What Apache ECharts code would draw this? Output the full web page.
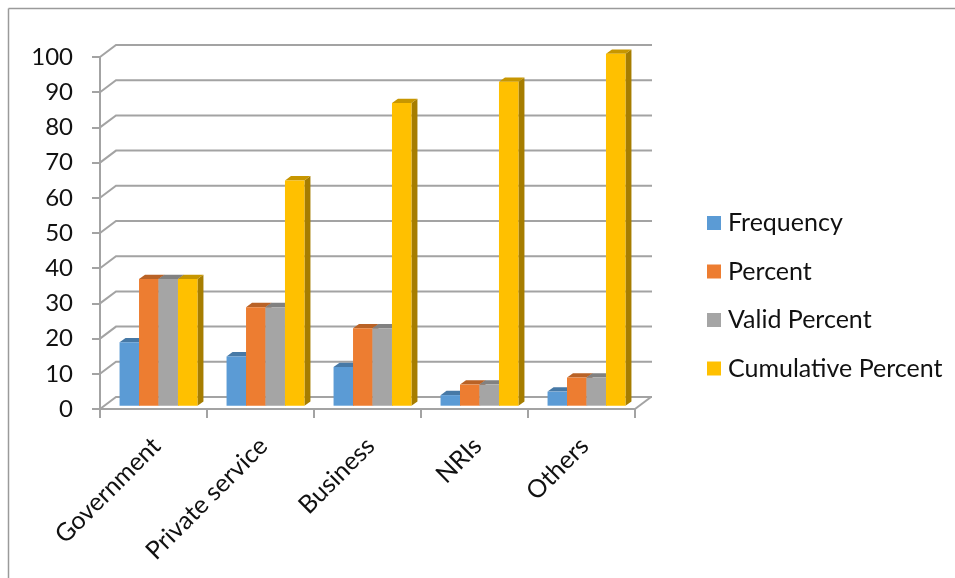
<!DOCTYPE html>
<html>
<head>
<meta charset="utf-8">
<script src="https://cdn.jsdelivr.net/npm/echarts@6/dist/echarts.min.js"></script>
<style>
  html, body { margin: 0; padding: 0; background: #fff; }
  #chart { width: 955px; height: 578px; }
</style>
</head>
<body>
<div id="chart"></div>
<script>
// Occupation of respondents
const categories = ['Government', 'Private service', 'Business', 'NRIs', 'Others'];
const frequency = [18, 14, 11, 3, 4];
const percent = [36, 28, 22, 6, 8];
const validPercent = [36, 28, 22, 6, 8];
const cumulativePercent = [36, 64, 86, 92, 100];
const yTicks = [0, 10, 20, 30, 40, 50, 60, 70, 80, 90, 100];

const seriesDefs = [
  { name: 'Frequency', values: frequency, color: '#5B9BD5' },
  { name: 'Percent', values: percent, color: '#ED7D31' },
  { name: 'Valid Percent', values: validPercent, color: '#A5A5A5' },
  { name: 'Cumulative Percent', values: cumulativePercent, color: '#FFC000' }
];

const FONT = 'Lato';
const LINE = '#A3A3A3';
const TEXT = '#111111';

// depth of the back wall relative to the front axis plane
const WALL_DX = 16, WALL_DY = -12;
// bars stand a little behind the front plane
const BAR_SHIFT_X = 5, BAR_SHIFT_Y = -3.3;
// extrusion of each bar
const BAR_DX = 6, BAR_DY = -4.3;

function shade(hex, k) {
  const n = parseInt(hex.slice(1), 16);
  const r = Math.round(((n >> 16) & 255) * k);
  const g = Math.round(((n >> 8) & 255) * k);
  const b = Math.round((n & 255) * k);
  return 'rgb(' + r + ',' + g + ',' + b + ')';
}

function wallRenderer(params, api) {
  const cs = params.coordSys;
  const v = api.value(0);
  const y = api.coord([0, v])[1];
  const xl = cs.x, xr = cs.x + cs.width;
  const children = [{
    type: 'polyline',
    shape: { points: [[xl, y], [xl + WALL_DX, y + WALL_DY], [xr + WALL_DX + 1, y + WALL_DY]] },
    style: { stroke: LINE, lineWidth: 2, fill: null }
  }];
  if (v === yTicks[0]) {
    children.push({
      type: 'line',
      shape: { x1: xr, y1: y, x2: xr + WALL_DX, y2: y + WALL_DY },
      style: { stroke: LINE, lineWidth: 2 }
    });
  }
  return { type: 'group', children: children };
}

function barRenderer(slot, color) {
  const topColor = shade(color, 0.78);
  const sideColor = shade(color, 0.65);
  return function (params, api) {
    const i = api.value(0);
    const v = api.value(1);
    const base = api.coord([i, 0]);
    const top = api.coord([i, v]);
    const band = api.size([1, 0])[0];
    const w = band * 0.182;
    const x0 = base[0] + BAR_SHIFT_X - 2 * w + slot * w;
    const x1 = x0 + w;
    const yb = base[1] + BAR_SHIFT_Y;
    const yt = top[1] + BAR_SHIFT_Y;
    return {
      type: 'group',
      children: [
        {
          type: 'polygon',
          shape: { points: [[x1, yt], [x1 + BAR_DX, yt + BAR_DY], [x1 + BAR_DX, yb + BAR_DY], [x1, yb]] },
          style: { fill: sideColor }
        },
        {
          type: 'polygon',
          shape: { points: [[x0, yt], [x1, yt], [x1 + BAR_DX, yt + BAR_DY], [x0 + BAR_DX, yt + BAR_DY]] },
          style: { fill: topColor }
        },
        {
          type: 'rect',
          shape: { x: x0, y: yt, width: w, height: yb - yt },
          style: { fill: color }
        }
      ]
    };
  };
}

const chart = echarts.init(document.getElementById('chart'), null, { renderer: 'canvas' });

const option = {
  backgroundColor: '#ffffff',
  animation: false,
  textStyle: { fontFamily: FONT },
  graphic: [
    { type: 'line', shape: { x1: 8.5, y1: 8.5, x2: 955, y2: 8.5 }, style: { stroke: '#9A9A9A', lineWidth: 1.5 } },
    { type: 'line', shape: { x1: 8.5, y1: 8.5, x2: 8.5, y2: 578 }, style: { stroke: '#9A9A9A', lineWidth: 1.5 } }
  ],
  legend: {
    orient: 'vertical',
    left: 707,
    top: 210.5,
    padding: 0,
    itemWidth: 14,
    itemHeight: 14,
    itemGap: 23.5,
    icon: 'rect',
    textStyle: { fontFamily: FONT, fontSize: 25, color: TEXT, lineHeight: 25, padding: [0, 0, 0, 2] },
    data: seriesDefs.map(s => s.name)
  },
  grid: [
    { left: 100, top: 57, width: 535, height: 352 },
    { left: 103, top: 57, width: 535, height: 352 }
  ],
  xAxis: [
    {
      type: 'category',
      gridIndex: 0,
      data: categories,
      axisLine: { show: true, lineStyle: { color: LINE, width: 2 } },
      axisTick: { show: true, length: 9, lineStyle: { color: LINE, width: 2 } },
      axisLabel: { show: false },
      splitLine: { show: false }
    },
    {
      type: 'category',
      gridIndex: 1,
      data: categories,
      axisLine: { show: false },
      axisTick: { show: false },
      axisLabel: { show: true, rotate: 45, margin: 33, fontFamily: FONT, fontSize: 25, color: TEXT, interval: 0 },
      splitLine: { show: false }
    }
  ],
  yAxis: [
    {
      type: 'value',
      gridIndex: 0,
      min: 0,
      max: 100,
      interval: 10,
      axisLine: { show: true, lineStyle: { color: LINE, width: 2 } },
      axisTick: { show: true, length: 8, lineStyle: { color: LINE, width: 2 } },
      axisLabel: { margin: 27, fontFamily: FONT, fontSize: 24, color: TEXT },
      splitLine: { show: false }
    },
    {
      type: 'value',
      gridIndex: 1,
      min: 0,
      max: 100,
      show: false
    }
  ],
  series: [
    {
      type: 'custom',
      name: 'wall',
      xAxisIndex: 0,
      yAxisIndex: 0,
      z: 1,
      silent: true,
      renderItem: wallRenderer,
      encode: { y: 0 },
      data: yTicks.map(v => [v])
    }
  ].concat(seriesDefs.map((s, k) => ({
    type: 'custom',
    name: s.name,
    xAxisIndex: 0,
    yAxisIndex: 0,
    z: 2,
    itemStyle: { color: s.color },
    renderItem: barRenderer(k, s.color),
    encode: { x: 0, y: 1 },
    data: s.values.map((v, i) => [i, v])
  })))
};

chart.setOption(option);
</script>
</body>
</html>
